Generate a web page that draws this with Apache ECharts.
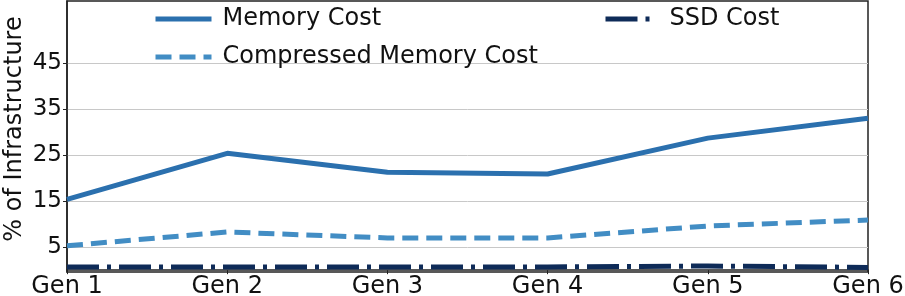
<!DOCTYPE html>
<html>
<head>
<meta charset="utf-8">
<script src="https://cdn.jsdelivr.net/npm/echarts@6/dist/echarts.min.js"></script>
<style>html,body{margin:0;padding:0;background:#fff;}#c{width:905px;height:296px;}</style>
</head>
<body>
<div id="c"></div>
<script>
const categories = ['Gen 1', 'Gen 2', 'Gen 3', 'Gen 4', 'Gen 5', 'Gen 6'];
const memoryCost = [15.4, 25.4, 21.3, 20.9, 28.7, 33.0];
const compressedMemoryCost = [5.3, 8.3, 7.0, 7.0, 9.6, 10.9];
const ssdCost = [0.7, 0.7, 0.7, 0.7, 0.9, 0.6];
const yTicks = [5, 15, 25, 35, 45];

const FONT = 'DejaVu Sans';
const chart = echarts.init(document.getElementById('c'), null, {renderer: 'canvas'});
chart.setOption({
  animation: false,
  backgroundColor: '#fff',
  grid: {left: 67, right: 37, top: 1, bottom: 24, outerBoundsMode: 'none', containLabel: false,
         show: true, borderColor: '#222', borderWidth: 1.5, backgroundColor: 'transparent'},
  legend: [
    {
      data: ['Memory Cost', 'Compressed Memory Cost'],
      orient: 'vertical', left: 148, top: 2, itemWidth: 56, itemHeight: 14, itemGap: 14,
      itemStyle: {opacity: 0},
      lineStyle: {width: 5},
      textStyle: {fontFamily: FONT, fontSize: 24, color: '#111', padding: [0, 0, 0, 6]}
    },
    {
      data: ['SSD Cost'],
      orient: 'vertical', left: 598, top: 2, itemWidth: 47, itemHeight: 14,
      itemStyle: {opacity: 0},
      lineStyle: {width: 5},
      textStyle: {fontFamily: FONT, fontSize: 24, color: '#111', padding: [0, 0, 0, 12]}
    }
  ],
  xAxis: {
    type: 'category', data: categories, boundaryGap: false,
    axisLine: {show: true, lineStyle: {color: '#222', width: 1.5}},
    axisTick: {show: true, length: 4, alignWithLabel: true, lineStyle: {color: '#222'}},
    axisLabel: {fontFamily: FONT, fontSize: 24, color: '#111', margin: 3},
    splitLine: {show: false}
  },
  yAxis: {
    type: 'value', min: -0.4, max: 58.5,
    name: '% of Infrastructure', nameLocation: 'middle', nameGap: 40, nameMoveOverlap: false,
    nameTextStyle: {fontFamily: FONT, fontSize: 24, color: '#111', padding: [0, 0, 0, 15]},
    axisLine: {show: true, lineStyle: {color: '#222', width: 1.5}},
    axisTick: {show: true, length: 4, customValues: yTicks, lineStyle: {color: '#222'}},
    axisLabel: {fontFamily: FONT, fontSize: 23, color: '#111', margin: 5, customValues: yTicks},
    splitLine: {show: true, lineStyle: {color: '#c8c8c8', width: 1}}
  },
  series: [
    {
      name: 'Memory Cost', type: 'line', data: memoryCost, symbol: 'none',
      lineStyle: {color: '#2b70ae', width: 5}, itemStyle: {color: '#2b70ae'}
    },
    {
      name: 'Compressed Memory Cost', type: 'line', data: compressedMemoryCost, symbol: 'none',
      lineStyle: {color: '#428dc4', width: 5, type: [16, 8]}, itemStyle: {color: '#428dc4'}
    },
    {
      name: 'SSD Cost', type: 'line', data: ssdCost, symbol: 'none',
      lineStyle: {color: '#0e2b58', width: 5, type: [32, 8, 4, 8]}, itemStyle: {color: '#0e2b58'}
    }
  ]
});
</script>
</body>
</html>
